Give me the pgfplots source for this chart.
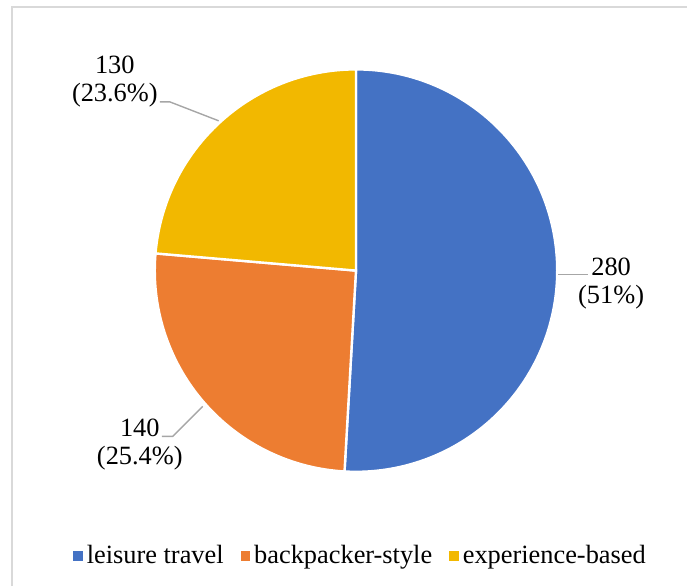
\documentclass[border=0pt]{standalone}
\usepackage{pgfplots}
\pgfplotsset{compat=1.18}
\usepackage{fontspec}
\setmainfont{Liberation Serif}
\definecolor{cblue}{HTML}{4472C4}
\definecolor{corange}{HTML}{ED7D31}
\definecolor{cgold}{HTML}{F2B800}
\definecolor{cframe}{HTML}{D9D9D9}
\definecolor{cleader}{HTML}{A6A6A6}
% data
\def\va{280}\def\vb{140}\def\vc{130}
\pgfmathsetmacro\tot{\va+\vb+\vc}
\pgfmathsetmacro\aA{90}
\pgfmathsetmacro\aB{90-360*(\va/\tot)}
\pgfmathsetmacro\aC{\aB-360*(\vb/\tot)}
\pgfmathsetmacro\aD{\aC-360*(\vc/\tot)}
\def\R{100.75pt}
\begin{document}
\begin{tikzpicture}
\begin{axis}[
  scale only axis, x=0.5pt, y=0.5pt,
  xmin=0, xmax=688, ymin=0, ymax=587,
  hide axis, clip=false,
  font=\fontsize{13.2}{14}\selectfont,
  legend columns=3,
  legend style={at={(axis cs:362,30)}, anchor=center, draw=none, fill=none,
    font=\fontsize{13.2}{14}\selectfont,
    /tikz/every even column/.append style={column sep=6.5pt},
    /tikz/every odd column/.append style={column sep=0pt}},
  legend image code/.code={\fill[#1] (0pt,-2.2pt) rectangle (4.4pt,2.2pt);},
]
\path (axis cs:0,0) rectangle (axis cs:688,587);
\draw[cframe, line width=1pt] (axis cs:12,0) -- (axis cs:12,580) -- (axis cs:688,580);
\addlegendimage{cblue}\addlegendentry{leisure travel}
\addlegendimage{corange}\addlegendentry{backpacker-style}
\addlegendimage{cgold}\addlegendentry{experience-based}
\fill[cblue, draw=white, line width=1.2pt] (axis cs:356.5,316) -- ++(\aA:\R) arc[start angle=\aA, end angle=\aB, radius=\R] -- cycle;
\fill[corange, draw=white, line width=1.2pt] (axis cs:356.5,316) -- ++(\aB:\R) arc[start angle=\aB, end angle=\aC, radius=\R] -- cycle;
\fill[cgold, draw=white, line width=1.2pt] (axis cs:356.5,316) -- ++(\aC:\R) arc[start angle=\aC, end angle=\aD, radius=\R] -- cycle;
\draw[cleader, line width=0.7pt] (axis cs:559,312) -- (axis cs:589,312);
\draw[cleader, line width=0.7pt] (axis cs:160,485) -- (axis cs:170,485) -- (axis cs:219,466);
\draw[cleader, line width=0.7pt] (axis cs:162,150) -- (axis cs:173,150) -- (axis cs:203,180);
\node[align=center, anchor=center] at (axis cs:612,303) {280\\(51\%)};
\node[align=center, anchor=center] at (axis cs:115,505) {130\\(23.6\%)};
\node[align=center, anchor=center] at (axis cs:140,142) {140\\(25.4\%)};
\end{axis}
\end{tikzpicture}
\end{document}
